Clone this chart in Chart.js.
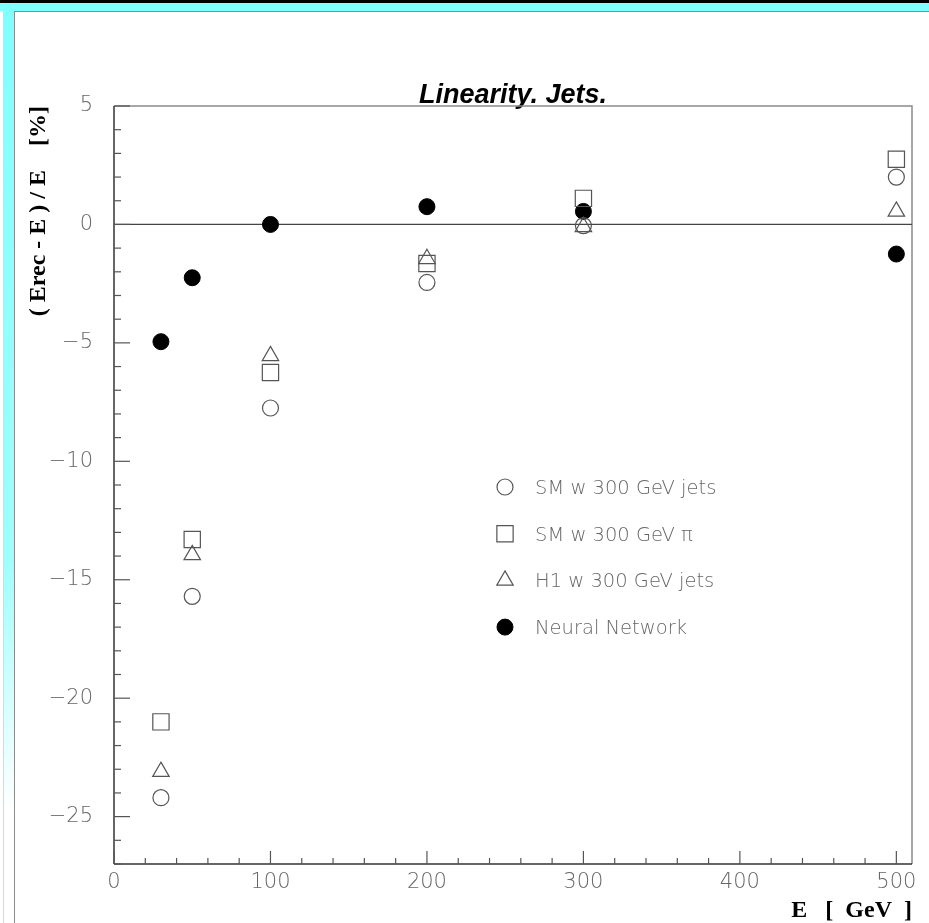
<!DOCTYPE html>
<html>
<head>
<meta charset="utf-8">
<title>Linearity. Jets.</title>
<script src="https://cdn.jsdelivr.net/npm/chart.js@4.4.0/dist/chart.umd.min.js"></script>
<style>
  html, body { margin: 0; padding: 0; background: #fff; }
  #page { position: relative; width: 929px; height: 923px; overflow: hidden; background: #fff; }
  #topbar { position: absolute; left: 0; top: 0; width: 929px; height: 11px; box-sizing: border-box;
            border-top: 3px solid #000; background: #80ffff; }
  #sidebar { position: absolute; left: 3px; top: 11px; width: 11px; height: 912px;
             border-left: 1px solid #d8d8d8; box-sizing: border-box;
             background: linear-gradient(to bottom, #80ffff 0%, #9ffdfd 60%, #ffffff 88%); }
  #panel { position: absolute; left: 14px; top: 11px; right: 0; bottom: 0;
           border-left: 1.5px solid #8c8c8c; border-top: 1.5px solid #8c8c8c; }
  #chart { position: absolute; left: 0; top: 0; }
</style>
</head>
<body>
<div id="page">
  <div id="topbar"></div>
  <div id="sidebar"></div>
  <div id="panel"></div>
  <canvas id="chart" width="929" height="923"></canvas>
</div>
<script>
// jet energies [GeV] and relative response (Erec - E)/E [%]
const energies = [30, 50, 100, 200, 300, 500];
const smJets = [-24.2, -15.7, -7.75, -2.45, -0.05, 2.0];
const smPion = [-21.0, -13.3, -6.25, -1.65, 1.1, 2.75];
const h1Jets = [-23.1, -13.95, -5.55, -1.45, -0.1, 0.55];
const neuralNet = [-4.95, -2.25, 0.0, 0.75, 0.55, -1.25];

const xTicks = [0, 100, 200, 300, 400, 500];
const yTicks = [5, 0, -5, -10, -15, -20, -25];

const tickFont = { family: "'DejaVu Sans', sans-serif", size: 21, weight: 300 };
const legendFont = { family: "'DejaVu Sans', sans-serif", size: 19.5, weight: 300 };
const labelColor = '#666';
const markColor = '#555';

const pts = vals => energies.map((e, i) => ({ x: e, y: vals[i] }));

const series = [
  { label: 'SM w 300 GeV jets', data: pts(smJets), pointStyle: 'circle', pointRadius: 8,
    backgroundColor: 'rgba(0,0,0,0)', borderColor: markColor, borderWidth: 1.2 },
  { label: 'SM w 300 GeV \u03c0', data: pts(smPion), pointStyle: 'rect', pointRadius: 11.5,
    backgroundColor: 'rgba(0,0,0,0)', borderColor: markColor, borderWidth: 1.2 },
  { label: 'H1 w 300 GeV jets', data: pts(h1Jets), pointStyle: 'triangle', pointRadius: 9.5,
    backgroundColor: 'rgba(0,0,0,0)', borderColor: markColor, borderWidth: 1.2 },
  { label: 'Neural Network', data: pts(neuralNet), pointStyle: 'circle', pointRadius: 8,
    backgroundColor: '#000', borderColor: '#000', borderWidth: 1 }
];

function line(ctx, x1, y1, x2, y2) {
  ctx.beginPath();
  ctx.moveTo(x1, y1);
  ctx.lineTo(x2, y2);
  ctx.stroke();
}

// box, zero line and inward tick marks
const frame = {
  id: 'frame',
  beforeDatasetsDraw(chart) {
    const { ctx, chartArea: a, scales: { x, y } } = chart;
    ctx.save();
    ctx.strokeStyle = '#8a8a8a';
    ctx.lineWidth = 1.5;
    ctx.beginPath();
    ctx.moveTo(a.left, a.top);
    ctx.lineTo(a.right, a.top);
    ctx.lineTo(a.right, a.bottom);
    ctx.stroke();

    ctx.strokeStyle = '#444';
    ctx.lineWidth = 1.2;
    const y0 = y.getPixelForValue(0);
    line(ctx, a.left, y0, a.right, y0);

    ctx.strokeStyle = '#333';
    ctx.lineWidth = 1.5;
    line(ctx, a.left, a.top, a.left, a.bottom);
    line(ctx, a.left, a.bottom, a.right, a.bottom);

    ctx.lineWidth = 1.2;
    ctx.strokeStyle = '#555';
    for (let v = Math.ceil(y.min); v <= y.max; v++) {
      const py = y.getPixelForValue(v);
      line(ctx, a.left, py, a.left + (v % 5 === 0 ? 16 : 7), py);
    }
    for (let v = 0; v <= 500; v += 20) {
      const px = x.getPixelForValue(v);
      line(ctx, px, a.bottom, px, a.bottom - (v % 100 === 0 ? 13 : 6));
    }
    ctx.restore();
  }
};

// legend box inside the plot
const innerLegend = {
  id: 'innerLegend',
  afterDatasetsDraw(chart) {
    const { ctx } = chart;
    const mx = 505, tx = 535, top = 487, step = 46.7;
    ctx.save();
    chart.data.datasets.forEach((ds, i) => {
      const cy = top + i * step;
      ctx.fillStyle = ds.backgroundColor;
      ctx.strokeStyle = ds.borderColor;
      ctx.lineWidth = ds.borderWidth;
      Chart.helpers.drawPoint(ctx, { pointStyle: ds.pointStyle, radius: ds.pointRadius, rotation: 0, borderWidth: ds.borderWidth }, mx, cy);
      ctx.fillStyle = labelColor;
      ctx.font = `${legendFont.weight} ${legendFont.size}px ${legendFont.family}`;
      ctx.textBaseline = 'alphabetic';
      ctx.textAlign = 'left';
      ctx.fillText(ds.label, tx, cy + 7);
    });
    ctx.restore();
  }
};

new Chart(document.getElementById('chart'), {
  type: 'scatter',
  data: { datasets: series },
  plugins: [frame, innerLegend],
  options: {
    responsive: false,
    animation: false,
    events: [],
    layout: { padding: { left: 14, right: 17, top: 84.4, bottom: 0 } },
    plugins: {
      legend: { display: false },
      tooltip: { enabled: false },
      title: {
        display: true,
        text: 'Linearity. Jets.',
        fullSize: false,
        color: '#000',
        font: { family: "'Liberation Sans', Arial, sans-serif", size: 27, weight: 'bold', style: 'italic', lineHeight: 0.8 },
        padding: { top: 0, bottom: 0 }
      }
    },
    scales: {
      x: {
        type: 'linear',
        min: 0,
        max: 510,
        afterBuildTicks: s => { s.ticks = xTicks.map(v => ({ value: v })); },
        afterFit: s => { s.height = 59; },
        grid: { display: false, drawTicks: false },
        border: { display: false },
        ticks: { padding: 6, font: tickFont, color: labelColor, maxRotation: 0 },
        title: {
          display: true,
          text: 'E   [  GeV  ]',
          align: 'end',
          color: '#000',
          font: { family: "'Liberation Serif', 'Times New Roman', serif", size: 24, weight: 'bold', lineHeight: 1 },
          padding: { top: 0, bottom: 0 }
        }
      },
      y: {
        type: 'linear',
        min: -27,
        max: 5,
        afterBuildTicks: s => { s.ticks = yTicks.map(v => ({ value: v })); },
        afterFit: s => { s.width = 100; },
        grid: { display: false, drawTicks: false },
        border: { display: false },
        ticks: {
          padding: 21,
          font: tickFont,
          color: labelColor,
          callback: v => (v < 0 ? '\u2212' + Math.abs(v) : String(v))
        },
        title: {
          display: true,
          text: '( Erec - E ) / E    [%]',
          align: 'end',
          color: '#000',
          font: { family: "'Liberation Serif', 'Times New Roman', serif", size: 24, weight: 'bold', lineHeight: 1 },
          padding: { top: 13, bottom: 0 }
        }
      }
    }
  }
});
</script>
</body>
</html>
